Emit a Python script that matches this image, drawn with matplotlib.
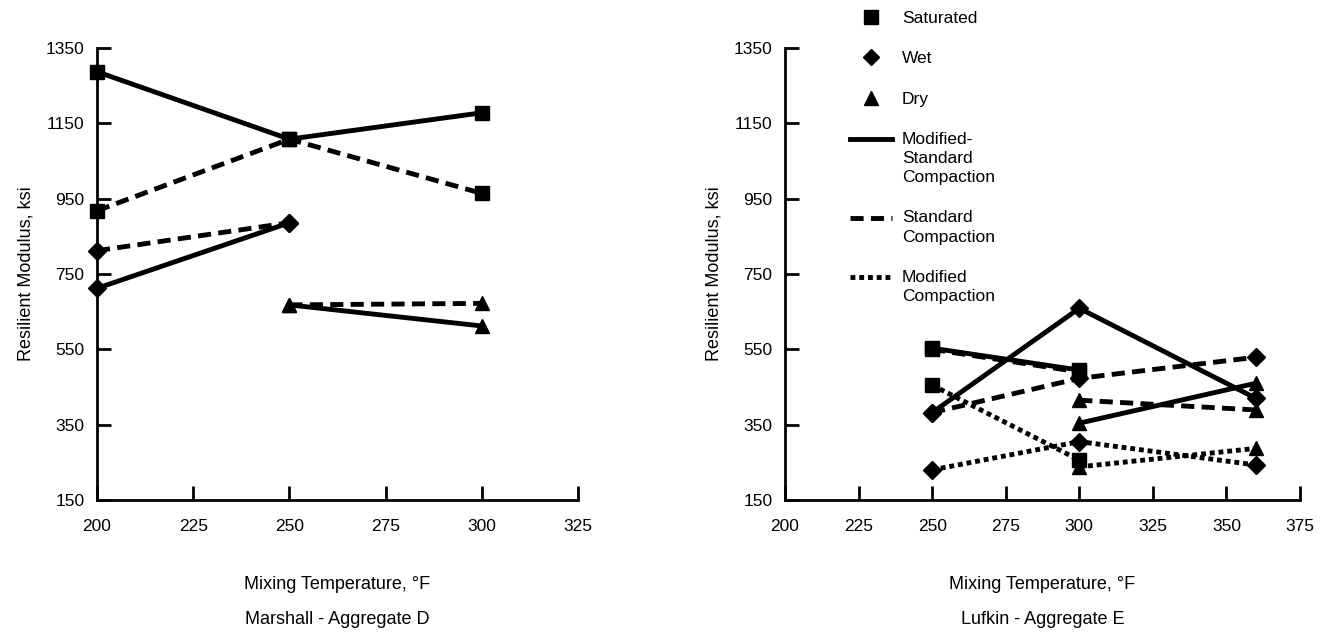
import numpy as np
import matplotlib
matplotlib.use("Agg")
import matplotlib.pyplot as plt
from matplotlib.lines import Line2D
from matplotlib.legend_handler import HandlerLine2D

plt.rcParams['font.family'] = ['Liberation Sans', 'DejaVu Sans']

nan = np.nan

# Marshall - Aggregate D
temps_d = [200, 250, 300]
ms_sat_d = [1287, 1108, 1178]
std_sat_d = [918, 1108, 964]
ms_wet_d = [712, 886, nan]
std_wet_d = [812, 886, nan]
ms_dry_d = [nan, 668, 612]
std_dry_d = [nan, 668, 672]

# Lufkin - Aggregate E
temps_e = [250, 300, 360]
ms_sat_e = [553, 495, nan]
std_sat_e = [550, 490, nan]
mod_sat_e = [455, 256, nan]
ms_wet_e = [382, 659, 420]
std_wet_e = [382, 473, 529]
mod_wet_e = [230, 305, 243]
ms_dry_e = [nan, 354, 460]
std_dry_e = [nan, 415, 389]
mod_dry_e = [nan, 238, 287]

yticks = [150, 350, 550, 750, 950, 1150, 1350]
xticks_d = [200, 225, 250, 275, 300, 325]
xticks_e = [200, 225, 250, 275, 300, 325, 350, 375]

SOLID = '-'
DASHED = (0, (2.7, 1.5))
DOTTED = (0, (1.0, 0.8))
LW = 3.5
FS = 13


class TopLine(HandlerLine2D):
    # put the line sample level with the first line of a multi-line label
    def __init__(self, shift=0.0, **kw):
        super().__init__(**kw)
        self.shift = shift

    def create_artists(self, legend, orig_handle, xdescent, ydescent,
                       width, height, fontsize, trans):
        arts = super().create_artists(legend, orig_handle, xdescent, ydescent,
                                      width, height, fontsize, trans)
        for a in arts:
            a.set_ydata(np.asarray(a.get_ydata()) + self.shift)
        return arts


def draw(ax, x, y, ls, marker):
    ms = {'s': 10, 'D': 9, '^': 10.5}[marker]
    ax.plot(x, y, color='black', lw=LW, ls=ls, marker=marker, ms=ms,
            dash_capstyle='butt', clip_on=False)


def style_axes(ax, xticks, xlim):
    ax.set_xlim(*xlim)
    ax.set_ylim(150, 1350)
    ax.set_xticks(xticks)
    ax.set_yticks(yticks)
    for s in ['top', 'right']:
        ax.spines[s].set_visible(False)
    for s in ['left', 'bottom']:
        ax.spines[s].set_linewidth(2.0)
    ax.tick_params(direction='in', length=10, width=2.0, labelsize=12.5)
    ax.tick_params(axis='x', pad=14)
    ax.tick_params(axis='y', pad=9)
    ax.set_ylabel('Resilient Modulus, ksi', fontsize=FS, labelpad=8)
    ax.set_xlabel('Mixing Temperature, °F', fontsize=FS, labelpad=30)


fig = plt.figure(figsize=(13.32, 6.36), dpi=100)
ax1 = fig.add_axes([97 / 1332, 136 / 636, 481 / 1332, 452 / 636])
ax2 = fig.add_axes([785 / 1332, 136 / 636, 515 / 1332, 452 / 636])

draw(ax1, temps_d, ms_sat_d, SOLID, 's')
draw(ax1, temps_d, std_sat_d, DASHED, 's')
draw(ax1, temps_d, ms_wet_d, SOLID, 'D')
draw(ax1, temps_d, std_wet_d, DASHED, 'D')
draw(ax1, temps_d, ms_dry_d, SOLID, '^')
draw(ax1, temps_d, std_dry_d, DASHED, '^')
style_axes(ax1, xticks_d, (200, 325))
ax1.set_title('Marshall - Aggregate D', fontsize=FS, y=-0.292)

draw(ax2, temps_e, ms_sat_e, SOLID, 's')
draw(ax2, temps_e, std_sat_e, DASHED, 's')
draw(ax2, temps_e, mod_sat_e, DOTTED, 's')
draw(ax2, temps_e, ms_wet_e, SOLID, 'D')
draw(ax2, temps_e, std_wet_e, DASHED, 'D')
draw(ax2, temps_e, mod_wet_e, DOTTED, 'D')
draw(ax2, temps_e, ms_dry_e, SOLID, '^')
draw(ax2, temps_e, std_dry_e, DASHED, '^')
draw(ax2, temps_e, mod_dry_e, DOTTED, '^')
style_axes(ax2, xticks_e, (200, 375))
ax2.set_title('Lufkin - Aggregate E', fontsize=FS, y=-0.292)

LEG_FS = 12.5
LSP = 1.35
line_step = LSP * 10.4
h_sol = Line2D([], [], color='black', lw=LW, ls=SOLID)
h_dash = Line2D([], [], color='black', lw=LW, ls=DASHED, dash_capstyle='butt')
h_dot = Line2D([], [], color='black', lw=LW, ls=DOTTED, dash_capstyle='butt')
handles = [
    Line2D([], [], color='black', marker='s', ls='none', ms=9.5),
    Line2D([], [], color='black', marker='D', ls='none', ms=8.5),
    Line2D([], [], color='black', marker='^', ls='none', ms=9.5),
    h_sol, h_dash, h_dot,
]
labels = ['Saturated', 'Wet', 'Dry', 'Modified-\nStandard\nCompaction',
          'Standard\nCompaction', 'Modified\nCompaction']
hmap = {
    h_sol: TopLine(shift=line_step),
    h_dash: TopLine(shift=line_step / 2),
    h_dot: TopLine(shift=line_step / 2),
}
leg = fig.legend(handles, labels, loc='upper left', handler_map=hmap,
                 bbox_to_anchor=(843 / 1332, 1 - 4 / 636), frameon=False,
                 fontsize=LEG_FS, handlelength=2.4, handletextpad=0.6,
                 labelspacing=1.45, borderaxespad=0)
for t in leg.get_texts():
    t.set_linespacing(LSP)

fig.savefig('out.png', dpi=100)
